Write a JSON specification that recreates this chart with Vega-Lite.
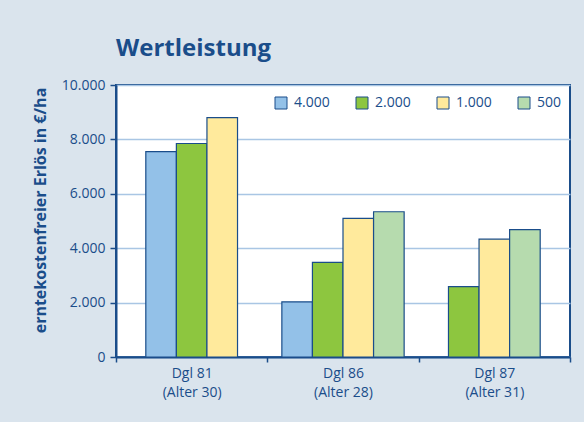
{
  "$schema": "https://vega.github.io/schema/vega-lite/v6.json",
  "width": 454,
  "height": 272,
  "autosize": {"type": "none"},
  "padding": {"left": 116, "top": 85, "right": 14, "bottom": 65},
  "background": "#dae4ed",
  "title": {
    "text": "Wertleistung",
    "anchor": "start",
    "frame": "group",
    "fontSize": 24,
    "fontWeight": "bold",
    "color": "#1a4d8a",
    "font": "Open Sans",
    "offset": 28,
    "dy": 30,
    "baseline": "alphabetic"
  },
  "data": {
    "values": [
      {"group": "Dgl 81|(Alter 30)", "series": "4.000", "value": 7550},
      {"group": "Dgl 81|(Alter 30)", "series": "2.000", "value": 7850},
      {"group": "Dgl 81|(Alter 30)", "series": "1.000", "value": 8800},
      {"group": "Dgl 86|(Alter 28)", "series": "4.000", "value": 2030},
      {"group": "Dgl 86|(Alter 28)", "series": "2.000", "value": 3480},
      {"group": "Dgl 86|(Alter 28)", "series": "1.000", "value": 5100},
      {"group": "Dgl 86|(Alter 28)", "series": "500", "value": 5340},
      {"group": "Dgl 87|(Alter 31)", "series": "2.000", "value": 2590},
      {"group": "Dgl 87|(Alter 31)", "series": "1.000", "value": 4330},
      {"group": "Dgl 87|(Alter 31)", "series": "500", "value": 4680}
    ]
  },
  "transform": [
    {"joinaggregate": [{"op": "count", "as": "n"}], "groupby": ["group"]},
    {"window": [{"op": "row_number", "as": "slot"}], "groupby": ["group"]}
  ],
  "encoding": {
    "x": {
      "field": "group",
      "type": "nominal",
      "scale": {"paddingInner": 0, "paddingOuter": 0},
      "axis": {
        "title": null,
        "labelExpr": "split(datum.label, '|')",
        "labelAngle": 0,
        "tickBand": "extent",
        "tickSize": 5,
        "labelPadding": 4,
        "labelLineHeight": 19,
        "grid": false
      }
    },
    "y": {
      "field": "value",
      "type": "quantitative",
      "scale": {"domain": [0, 10000], "nice": false},
      "axis": {
        "title": "erntekostenfreier Erlös in €/ha",
        "format": ",d",
        "values": [0, 2000, 4000, 6000, 8000, 10000],
        "tickSize": 6,
        "labelPadding": 5,
        "titleX": -76,
        "titleY": 125,
        "titleAngle": -90,
        "titleAlign": "center",
        "titleBaseline": "middle",
        "titleFontSize": 16,
        "titleFontWeight": "bold"
      }
    },
    "color": {
      "field": "series",
      "type": "nominal",
      "scale": {
        "domain": ["4.000", "2.000", "1.000", "500"],
        "range": ["#93c1e8", "#8dc63f", "#ffea9c", "#b6dbae"]
      },
      "legend": {
        "title": null,
        "orient": "none",
        "legendX": 158,
        "legendY": 11,
        "direction": "horizontal",
        "columns": 4,
        "columnPadding": 24,
        "symbolType": "square",
        "symbolSize": 144,
        "symbolStrokeColor": "#1a4d8a",
        "symbolStrokeWidth": 1,
        "labelFontSize": 14,
        "labelColor": "#1a4d8a",
        "labelFont": "Open Sans",
        "labelOffset": 6,
        "padding": 0
      }
    }
  },
  "layer": [
    {
      "transform": [{"filter": "datum.n == 4"}],
      "mark": {"type": "bar", "stroke": "#1a4d8a", "strokeWidth": 1.2},
      "encoding": {
        "xOffset": {"field": "slot", "type": "ordinal", "scale": {"paddingInner": 0, "paddingOuter": 0.475}}
      }
    },
    {
      "transform": [{"filter": "datum.n == 3"}],
      "mark": {"type": "bar", "stroke": "#1a4d8a", "strokeWidth": 1.2},
      "encoding": {
        "xOffset": {"field": "slot", "type": "ordinal", "scale": {"paddingInner": 0, "paddingOuter": 0.975}}
      }
    }
  ],
  "resolve": {"scale": {"xOffset": "independent"}},
  "config": {
    "locale": {"number": {"decimal": ",", "thousands": ".", "grouping": [3], "currency": ["", " €"]}},
    "font": "Open Sans",
    "view": {"fill": "white", "stroke": "#1a4d8a", "strokeWidth": 2},
    "axis": {
      "domainColor": "#1a4d8a",
      "domainWidth": 2,
      "tickColor": "#1a4d8a",
      "tickWidth": 1.5,
      "labelColor": "#1a4d8a",
      "labelFontSize": 14,
      "labelFont": "Open Sans",
      "titleColor": "#1a4d8a",
      "titleFont": "Open Sans",
      "gridColor": "#a9c6e4",
      "gridWidth": 1.5
    }
  }
}
